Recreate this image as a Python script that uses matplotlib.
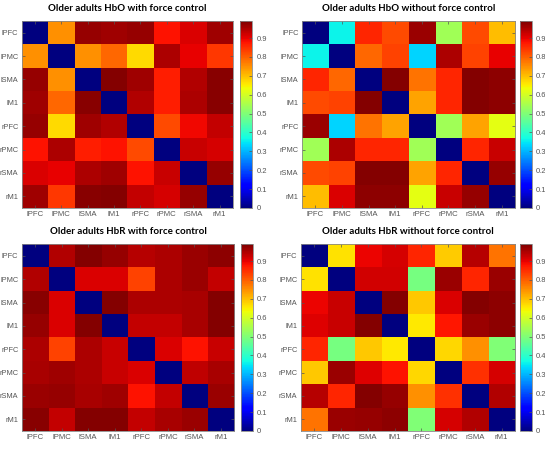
import numpy as np
import matplotlib
matplotlib.use("Agg")
import matplotlib.pyplot as plt

regions = ["lPFC", "lPMC", "lSMA", "lM1", "rPFC", "rPMC", "rSMA", "rM1"]

hbo_with = [
    [0.00, 0.75, 0.97, 0.96, 0.97, 0.88, 0.91, 0.96],
    [0.75, 0.00, 0.75, 0.79, 0.67, 0.95, 0.90, 0.84],
    [0.97, 0.75, 0.00, 0.985, 0.96, 0.87, 0.945, 0.98],
    [0.96, 0.79, 0.98, 0.00, 0.945, 0.87, 0.95, 0.98],
    [0.97, 0.67, 0.96, 0.945, 0.00, 0.82, 0.89, 0.93],
    [0.88, 0.95, 0.87, 0.88, 0.82, 0.00, 0.925, 0.915],
    [0.91, 0.90, 0.95, 0.96, 0.88, 0.925, 0.00, 0.97],
    [0.96, 0.84, 0.98, 0.985, 0.93, 0.915, 0.97, 0.00],
]

hbo_without = [
    [0.00, 0.36, 0.86, 0.82, 0.965, 0.54, 0.82, 0.70],
    [0.36, 0.00, 0.79, 0.83, 0.33, 0.95, 0.83, 0.90],
    [0.86, 0.79, 0.00, 0.985, 0.78, 0.86, 0.985, 0.975],
    [0.82, 0.83, 0.985, 0.00, 0.73, 0.86, 0.985, 0.975],
    [0.965, 0.33, 0.78, 0.73, 0.00, 0.54, 0.73, 0.62],
    [0.54, 0.95, 0.86, 0.86, 0.54, 0.00, 0.86, 0.925],
    [0.82, 0.83, 0.985, 0.985, 0.73, 0.86, 0.00, 0.97],
    [0.70, 0.91, 0.975, 0.975, 0.62, 0.925, 0.97, 0.00],
]

hbr_with = [
    [0.00, 0.945, 0.985, 0.97, 0.94, 0.95, 0.965, 0.975],
    [0.945, 0.00, 0.91, 0.91, 0.83, 0.95, 0.965, 0.93],
    [0.98, 0.91, 0.00, 0.985, 0.95, 0.95, 0.955, 0.985],
    [0.97, 0.91, 0.985, 0.00, 0.93, 0.93, 0.955, 0.985],
    [0.95, 0.83, 0.95, 0.925, 0.00, 0.91, 0.88, 0.925],
    [0.955, 0.96, 0.95, 0.925, 0.91, 0.00, 0.935, 0.955],
    [0.965, 0.97, 0.955, 0.96, 0.88, 0.93, 0.00, 0.965],
    [0.98, 0.93, 0.985, 0.985, 0.93, 0.955, 0.965, 0.00],
]

hbr_without = [
    [0.00, 0.665, 0.895, 0.915, 0.86, 0.685, 0.94, 0.78],
    [0.665, 0.00, 0.92, 0.92, 0.49, 0.965, 0.86, 0.965],
    [0.895, 0.925, 0.00, 0.985, 0.69, 0.91, 0.985, 0.975],
    [0.905, 0.925, 0.985, 0.00, 0.655, 0.875, 0.965, 0.975],
    [0.86, 0.49, 0.69, 0.655, 0.00, 0.675, 0.75, 0.50],
    [0.69, 0.965, 0.905, 0.88, 0.675, 0.00, 0.85, 0.915],
    [0.94, 0.86, 0.985, 0.97, 0.75, 0.85, 0.00, 0.945],
    [0.78, 0.965, 0.97, 0.975, 0.50, 0.915, 0.945, 0.00],
]

titles = ["Older adults HbO with force control",
          "Older adults HbO without force control",
          "Older adults HbR with force control",
          "Older adults HbR without force control"]
matrices = [hbo_with, hbo_without, hbr_with, hbr_without]

# axes rectangles in figure fraction: heatmap, colorbar
positions = [
    ([0.040, 0.546, 0.387, 0.408], [0.441, 0.546, 0.022, 0.408]),
    ([0.554, 0.546, 0.391, 0.408], [0.954, 0.546, 0.022, 0.408]),
    ([0.040, 0.059, 0.390, 0.408], [0.442, 0.059, 0.022, 0.408]),
    ([0.552, 0.059, 0.393, 0.408], [0.954, 0.059, 0.022, 0.408]),
]

gray = "#555555"
fig = plt.figure(figsize=(5.45, 4.58), dpi=100)

for title, mat, (hpos, cpos) in zip(titles, matrices, positions):
    ax = fig.add_axes(hpos)
    im = ax.imshow(np.array(mat), cmap="jet", vmin=0, vmax=0.99,
                   aspect="auto", interpolation="nearest")
    ax.set_xticks(range(len(regions)))
    ax.set_yticks(range(len(regions)))
    ax.set_xticklabels(regions, fontsize=5.6, color=gray, family="Liberation Sans")
    ax.set_yticklabels(regions, fontsize=5.3, color=gray, family="Liberation Sans")
    ax.tick_params(direction="in", length=2, width=0.5, color=gray,
                   top=True, right=True, pad=2.5)
    for s in ax.spines.values():
        s.set_color("#888888")
        s.set_linewidth(0.6)
    ax.set_title(title, fontsize=7, fontweight="bold", family="Lato", pad=7)

    cax = fig.add_axes(cpos)
    cb = fig.colorbar(im, cax=cax)
    cb.set_ticks(np.arange(0, 1.0, 0.1))
    cb.set_ticklabels(["0", "0.1", "0.2", "0.3", "0.4", "0.5", "0.6", "0.7", "0.8", "0.9"])
    cax.tick_params(direction="in", length=2, width=0.5, color=gray,
                    labelsize=5.5, labelcolor=gray, pad=3)
    for lab in cax.get_yticklabels():
        lab.set_family("Liberation Sans")
    cb.outline.set_edgecolor("#888888")
    cb.outline.set_linewidth(0.6)

fig.savefig("out.png", dpi=100)
